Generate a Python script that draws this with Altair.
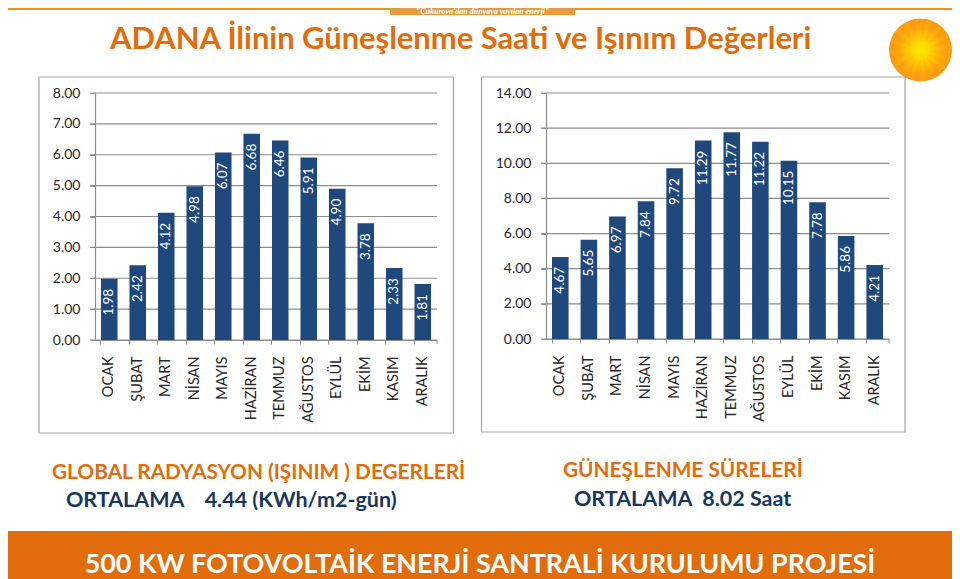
import altair as alt
import pandas as pd

MONTHS = ["OCAK", "ŞUBAT", "MART", "NİSAN", "MAYIS", "HAZİRAN", "TEMMUZ", "AĞUSTOS", "EYLÜL", "EKİM", "KASIM", "ARALIK"]
RADIATION = [1.98, 2.42, 4.12, 4.98, 6.07, 6.68, 6.46, 5.91, 4.90, 3.78, 2.33, 1.81]
SUNSHINE = [4.67, 5.65, 6.97, 7.84, 9.72, 11.29, 11.77, 11.22, 10.15, 7.78, 5.86, 4.21]
TICKS_LEFT = [0, 1, 2, 3, 4, 5, 6, 7, 8]
TICKS_RIGHT = [0, 2, 4, 6, 8, 10, 12, 14]

TITLE = "ADANA İlinin Güneşlenme Saati ve Işınım Değerleri"
SLOGAN = "\"Çukurova'dan dünyaya yayılan enerji\""
CAP_LEFT = "GLOBAL RADYASYON (IŞINIM ) DEGERLERİ"
AVG_LEFT = "ORTALAMA\u00a0\u00a0\u00a0\u00a04.44 (KWh/m2-gün)"
CAP_RIGHT = "GÜNEŞLENME SÜRELERİ"
AVG_RIGHT = "ORTALAMA\u00a0\u00a08.02 Saat"
FOOTER = "500 KW FOTOVOLTAİK ENERJİ SANTRALİ KURULUMU PROJESİ"
PETALS = ["a", "b"] * 16

ORANGE = "#E36C0A"
NAVY = "#1F497D"
FONT = "Lato"
W, H = 944, 571


def X(x):
    return x - 8


def Y(y):
    return y - 8


def txt(s, x, y, size, color, align="left", weight="normal", font=FONT, style="normal"):
    return alt.Chart(pd.DataFrame({"t": [s]})).mark_text(
        align=align, baseline="alphabetic", fontSize=size, color=color,
        fontWeight=weight, font=font, fontStyle=style,
    ).encode(x=alt.value(X(x)), y=alt.value(Y(y)), text="t:N")


def box(x, x2, y, y2, fill=None, stroke=None):
    kw = {"fill": fill or "transparent"}
    if stroke:
        kw.update(stroke=stroke, strokeWidth=1.2)
    return alt.Chart(pd.DataFrame({"a": [0]})).mark_rect(**kw).encode(
        x=alt.value(X(x)), x2=alt.value(X(x2)), y=alt.value(Y(y)), y2=alt.value(Y(y2)))


def panel(values, ticks, x0, x1, y0, y1):
    df = pd.DataFrame({"m": MONTHS, "v": values})
    grid_df = pd.DataFrame({"v": ticks})
    dom = [min(ticks), max(ticks)]
    vx0, vx1, vy0, vy1 = X(x0), X(x1), Y(y0), Y(y1)
    xs = alt.Scale(domain=MONTHS, range=[vx0, vx1], paddingInner=0.42, paddingOuter=0.21)
    ys = alt.Scale(domain=dom, range=[vy0, vy1], nice=False)
    grid = alt.Chart(grid_df).mark_rule(color="#8C8C8C", strokeWidth=1.2).encode(
        y=alt.Y("v:Q", scale=ys, axis=None), x=alt.value(vx0 - 5), x2=alt.value(vx1))
    bars = alt.Chart(df).mark_bar(color=NAVY).encode(
        x=alt.X("m:N", scale=xs, sort=MONTHS, title=None, axis=alt.Axis(
            orient="bottom", offset=vy0 - H, labelAngle=270, labelAlign="right",
            labelBaseline="middle", labelFontSize=14.5, labelFont=FONT, labelColor="#262626",
            labelPadding=12, tickSize=4, tickColor="#8C8C8C", domainColor="#8C8C8C",
            domainWidth=1.2, bandPosition=0, labelOverlap=False, labelBound=False, labelFlush=False)),
        y=alt.Y("v:Q", scale=ys, title=None, axis=alt.Axis(
            orient="left", offset=-vx0, values=ticks, format=".2f", grid=False,
            labelFontSize=14, labelFont=FONT, labelColor="#262626", labelPadding=10,
            tickSize=5, tickColor="#8C8C8C", domainColor="#8C8C8C", domainWidth=1.2,
            labelOverlap=False, labelBound=False, labelFlush=False)),
    )
    labels = alt.Chart(df).mark_text(
        angle=270, align="right", baseline="middle", color="white",
        fontSize=13.5, font=FONT, yOffset=10,
    ).encode(
        x=alt.X("m:N", scale=xs, sort=MONTHS, axis=None),
        y=alt.Y("v:Q", scale=ys, axis=None),
        text=alt.Text("v:Q", format=".2f"),
    )
    end_tick = alt.Chart(pd.DataFrame({"a": [0]})).mark_rule(color="#8C8C8C", strokeWidth=1).encode(
        x=alt.value(vx1), y=alt.value(vy0), y2=alt.value(vy0 + 4))
    return [grid, bars, labels, end_tick]


SUN_X, SUN_Y, SUN_R = 920.5, 50, 31.5

sun = alt.Chart(pd.DataFrame({"a": [0]})).mark_point(
    shape="circle", filled=True, size=(2 * SUN_R) ** 2, opacity=1,
    fill=alt.Gradient(gradient="radial", x1=0.5, y1=0.5, x2=0.5, y2=0.5, r1=0, r2=0.5, stops=[
        alt.GradientStop(offset=0, color="#FFE800"),
        alt.GradientStop(offset=0.3, color="#FFD500"),
        alt.GradientStop(offset=0.7, color="#FCA70F"),
        alt.GradientStop(offset=1, color="#F99B12"),
    ]),
).encode(x=alt.value(X(SUN_X)), y=alt.value(Y(SUN_Y)))

petals = alt.Chart(pd.DataFrame({"k": PETALS, "a": [1] * len(PETALS)})).mark_arc(
    innerRadius=10, outerRadius=SUN_R - 0.5, opacity=0.07,
).encode(
    x=alt.value(X(SUN_X)), y=alt.value(Y(SUN_Y)),
    theta=alt.Theta("a:Q", stack=True),
    order=alt.Order("i:Q"),
    color=alt.Color("k:N", scale=alt.Scale(domain=["a", "b"], range=["#F07000", "#FFD000"]), legend=None),
).transform_window(i="row_number()")

layers = [
    box(0, 960, 8, 10, fill="#E8941A"),
    box(390, 575, 8, 15, fill="#E99A3C"),
    txt(SLOGAN, 482.5, 14, 8, "white", align="center", weight="bold", font="Liberation Serif", style="italic"),
    sun,
    petals,
    txt(TITLE, 110, 49, 30.9, ORANGE, weight="bold"),
    box(39, 453.5, 77, 433, stroke="#A6A6A6"),
    box(481.5, 905, 77, 432, stroke="#A6A6A6"),
]
layers += panel(RADIATION, TICKS_LEFT, 95, 437, 340, 93)
layers += panel(SUNSHINE, TICKS_RIGHT, 546, 889, 339, 93)
layers += [
    txt(CAP_LEFT, 52, 479, 20.8, ORANGE, weight="bold"),
    txt(AVG_LEFT, 66, 507, 21.5, "#17375E", weight="bold"),
    txt(CAP_RIGHT, 563, 477, 20.8, ORANGE, weight="bold"),
    txt(AVG_RIGHT, 574, 506, 21.5, "#17375E", weight="bold"),
    box(0, 960, 531, 590, fill=ORANGE),
    txt(FOOTER, 480, 573, 26.9, "white", align="center", weight="bold"),
]

chart = alt.layer(*layers).resolve_scale(x="independent", y="independent", color="independent", theta="independent").resolve_axis(
    x="independent", y="independent"
).properties(
    width=W, height=H, padding=0, autosize=alt.AutoSizeParams(type="none"),
).configure_view(stroke=None)

chart.save("out.html", embed_options={"renderer": "svg", "actions": False})
